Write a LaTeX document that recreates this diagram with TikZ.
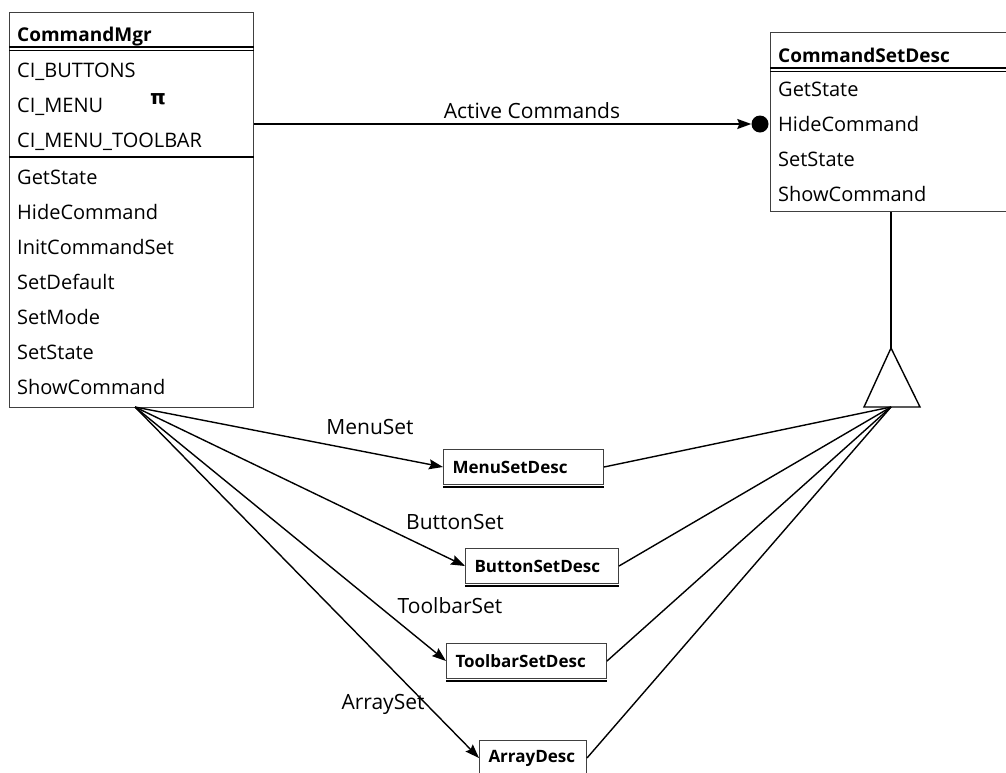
\documentclass[tikz,border=0pt]{standalone}
\usepackage{fontspec}
\setmainfont{Open Sans}
\newfontfamily\symfont{DejaVu Sans}
\usetikzlibrary{arrows.meta}
\begin{document}
\begin{tikzpicture}[x=1pt,y=-1pt,
  classbox/.style={draw=black!75, line width=1.2pt, anchor=north west, inner sep=0pt},
  member/.style={anchor=base west, inner sep=0pt, font=\fontsize{20}{24}\selectfont},
  ctitle/.style={member, font=\fontsize{19}{23}\selectfont\bfseries},
  rolelabel/.style={inner sep=0pt, font=\fontsize{21}{25}\selectfont},
  descbox/.style={draw=black!75, line width=1pt, anchor=north west, minimum height=35pt,
    inner xsep=9pt, inner ysep=0pt, align=left, font=\fontsize{17}{20}\selectfont\bfseries},
  link/.style={line width=1.4pt},
  assoc/.style={link, -{Stealth[length=14pt,width=10pt,inset=2pt]}},
]
\clip (0,0) rectangle (1006,772);
\fill[white] (0,0) rectangle (1006,772);

% ---- CommandMgr class
\node[classbox, minimum width=244pt, minimum height=395pt] (mgr) at (9,12) {};
\node[ctitle] (mgrT) at (17,41) {CommandMgr};
\draw[line width=2pt] (mgr.west |- 0,47) -- (mgr.east |- 0,47);
\draw[line width=1pt] (mgr.west |- 0,50.5) -- (mgr.east |- 0,50.5);
\node[member] (a1) at (17,77) {CI\_BUTTONS};
\node[member] (a2) at (17,112) {CI\_MENU};
\node[inner sep=0pt, font=\symfont\fontsize{20}{20}\selectfont\bfseries] (pi) at (158,99) {π};
\node[member] (a3) at (17,147) {CI\_MENU\_TOOLBAR};
\draw[line width=1.6pt] (mgr.west |- 0,157) -- (mgr.east |- 0,157);
\node[member] (o1) at (17,184) {GetState};
\node[member] (o2) at (17,219) {HideCommand};
\node[member] (o3) at (17,254) {InitCommandSet};
\node[member] (o4) at (17,289) {SetDefault};
\node[member] (o5) at (17,324) {SetMode};
\node[member] (o6) at (17,359) {SetState};
\node[member] (o7) at (17,394) {ShowCommand};

% ---- CommandSetDesc class
\node[classbox, minimum width=240pt, minimum height=179pt] (csd) at (770,32) {};
\node[ctitle] (csdT) at (778,62) {CommandSetDesc};
\draw[line width=2pt] (csd.west |- 0,68) -- (csd.east |- 0,68);
\draw[line width=1pt] (csd.west |- 0,71.5) -- (csd.east |- 0,71.5);
\node[member] (s1) at (778,96) {GetState};
\node[member] (s2) at (778,131) {HideCommand};
\node[member] (s3) at (778,166) {SetState};
\node[member] (s4) at (778,201) {ShowCommand};

% ---- association to CommandSetDesc
\node[circle, fill=black, inner sep=0pt, minimum size=17pt] (dot) at (760,124) {};
\draw[assoc] (mgr.east |- dot.west) -- (dot.west);
\node[rolelabel] (lblActive) at (532,111) {Active Commands};

% ---- generalisation triangle
\coordinate (triTop) at (891,348);
\coordinate (triL) at (864,407);
\coordinate (triR) at (920,407);
\coordinate (triBase) at (891,407);
\draw[link] (csd.south -| triTop) -- (triTop);
\draw[link, line join=miter] (triTop) -- (triL) -- (triR) -- cycle;

% ---- subclasses
\node[descbox, text width=142pt] (menu) at (443,449) {MenuSetDesc};
\node[descbox, text width=135pt] (button) at (465,548) {ButtonSetDesc};
\node[descbox, text width=142pt] (toolbar) at (446,643) {ToolbarSetDesc};
\node[descbox, text width=89pt] (array) at (479,740) {ArrayDesc};
\foreach \b in {menu,button,toolbar}{
  \draw[line width=2.6pt] ([yshift=-2pt]\b.south west) -- ([yshift=-2pt]\b.south east);
}

\foreach \b in {menu,button,toolbar,array}{
  \draw[link] (triBase) -- (\b.east);
}

% ---- roles from CommandMgr
\coordinate (fan) at (135,407);
\draw[assoc] (fan) -- (menu.west);
\draw[assoc] (fan) -- (button.west);
\draw[assoc] (fan) -- (toolbar.west);
\draw[assoc] (fan) -- (array.west);
\node[rolelabel] (lblMenu) at (370,427) {MenuSet};
\node[rolelabel] (lblButton) at (455,522) {ButtonSet};
\node[rolelabel] (lblToolbar) at (450,606) {ToolbarSet};
\node[rolelabel] (lblArray) at (383,704) {ArraySet};
\end{tikzpicture}
\end{document}
